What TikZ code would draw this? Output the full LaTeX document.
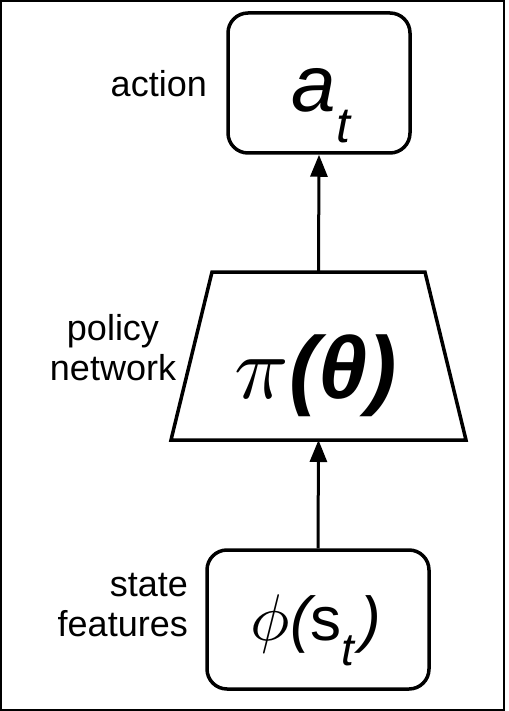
\documentclass[tikz,border=0pt]{standalone}
\usepackage{fontspec}
\usepackage{graphicx}
\setmainfont{Liberation Sans}
\usetikzlibrary{arrows.meta}
\begin{document}
\begin{tikzpicture}[x=1pt,y=-1pt,
  rbox/.style={draw,line width=3.5pt,rounded corners=20pt,inner sep=0pt},
  trap/.style={draw,line width=3.5pt,line join=miter},
  lbl/.style={font=\fontsize{36}{40}\selectfont,inner sep=0pt},
  flow/.style={line width=3pt,-{Triangle[length=22pt,width=17pt]}}]
\useasboundingbox (0,0) rectangle (508,711);
\draw[line width=2pt] (1,1) rectangle (504,710);
% boxes
\node[rbox,minimum width=182pt,minimum height=140pt] (act) at (319,83) {};
\coordinate (poltop) at (318.5,272);
\coordinate (polbot) at (318.5,440);
\draw[trap] (212,272) -- (425,272) -- (466,440) -- (171,440) -- cycle;
\node[rbox,minimum width=222pt,minimum height=139pt] (st) at (318,619.5) {};
% math texts
\node[inner sep=0pt,anchor=base] (actt) at (321,112)
  {\fontsize{80}{80}\selectfont\itshape a\raisebox{-31pt}{\fontsize{50}{50}\selectfont t}};
\node[inner sep=0pt,anchor=base] (polt) at (316,398)
  {\scalebox{9}{$\pi$}\fontsize{88}{88}\selectfont\bfseries\itshape(θ)};
\node[inner sep=0pt,anchor=base] (stt) at (316,640)
  {\scalebox{6.6}{$\phi$}\fontsize{62}{62}\selectfont\itshape(\upshape s\itshape\raisebox{-25pt}{\fontsize{46}{46}\selectfont t}\kern6pt)};
% labels
\node[lbl,anchor=base east] (actl) at (207,97) {action};
\node[lbl,align=center] (poll) at (113,348) {policy\\network};
\node[lbl,align=right,anchor=east] (stl) at (188,605) {state\\features};
% arrows
\draw[flow] (st.north) -- (polbot);
\draw[flow] (poltop) -- (act.south);
\end{tikzpicture}
\end{document}
